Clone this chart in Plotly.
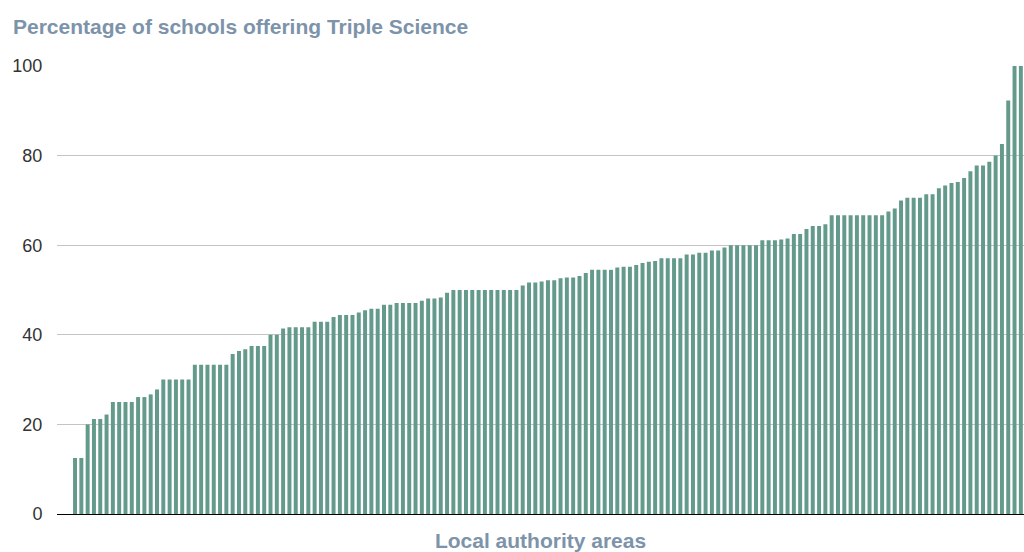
import plotly.graph_objects as go

pct_triple_science = [
    12.5, 12.5, 20, 21.2, 21.2, 22.2, 25, 25, 25, 25,
    26.1, 26.1, 26.7, 27.8, 30, 30, 30, 30, 30, 33.3,
    33.3, 33.3, 33.3, 33.3, 33.3, 35.7, 36.4, 36.8, 37.5, 37.5,
    37.5, 40, 40, 41.4, 41.7, 41.7, 41.7, 41.7, 42.9, 42.9,
    42.9, 44, 44.4, 44.4, 44.4, 45, 45.5, 45.8, 45.8, 46.7,
    46.7, 47.1, 47.1, 47.1, 47.1, 47.6, 48.1, 48.1, 48.3, 49.4,
    50, 50, 50, 50, 50, 50, 50, 50, 50, 50, 50,
    51, 51.7, 51.7, 51.9, 52.2, 52.2, 52.6, 52.8, 52.8, 53.1,
    53.8, 54.5, 54.5, 54.5, 54.5, 55, 55.2, 55.2, 55.6,
    56, 56.3, 56.5, 57.1, 57.1, 57.1, 57.1, 57.9, 57.9, 58.3,
    58.3, 58.8, 58.8, 59.5, 60, 60, 60, 60, 60, 61.1,
    61.1, 61.1, 61.3, 61.5, 62.5, 62.5, 63.6, 64.3, 64.3, 64.7,
    66.7, 66.7, 66.7, 66.7, 66.7, 66.7, 66.7, 66.7, 66.7,
    67.5, 68.2, 70, 70.6, 70.6, 70.6, 71.4, 71.4, 72.7, 73.3,
    73.9, 74.1, 75, 76.5, 77.8, 77.8, 78.6, 80, 82.6, 92.3, 100, 100,
]
local_authorities = [f"Area {i + 1}" for i in range(len(pct_triple_science))]
y_ticks = [0, 20, 40, 60, 80, 100]

fig = go.Figure(
    go.Bar(
        x=local_authorities,
        y=pct_triple_science,
        marker=dict(color="#649a8b", line=dict(width=0)),
        hovertemplate="%{x}: %{y}%<extra></extra>",
    )
)

fig.update_layout(
    width=1024,
    height=552,
    margin=dict(l=57, r=0, t=66, b=38),
    paper_bgcolor="white",
    plot_bgcolor="white",
    bargap=0.37,
    showlegend=False,
    font=dict(family="Liberation Sans, Arial, sans-serif"),
    title=dict(
        text="<b>Percentage of schools offering Triple Science</b>",
        font=dict(size=21, color="#7d93aa"),
        xref="container", yref="container",
        x=13 / 1024, xanchor="left",
        y=1 - 27 / 552, yanchor="middle",
    ),
)

fig.update_xaxes(
    type="category",
    range=[-2.86, 150.5],
    showticklabels=False,
    showgrid=False,
    showline=True,
    linecolor="black",
    linewidth=1,
    ticks="",
    title=dict(
        text="<b>Local authority areas</b>",
        font=dict(size=21, color="#7d93aa"),
        standoff=22,
    ),
)

fig.update_yaxes(
    range=[0, 100],
    tickvals=y_ticks,
    showgrid=True,
    gridcolor="#c4c4c4",
    gridwidth=1,
    zeroline=False,
    ticks="outside",
    ticklen=10,
    tickcolor="rgba(0,0,0,0)",
    tickfont=dict(size=18, color="#333333"),
)

fig.write_html(
    "out.html",
    config={"displayModeBar": False},
    post_script="document.body.style.margin='0';document.body.style.overflow='hidden';",
)
